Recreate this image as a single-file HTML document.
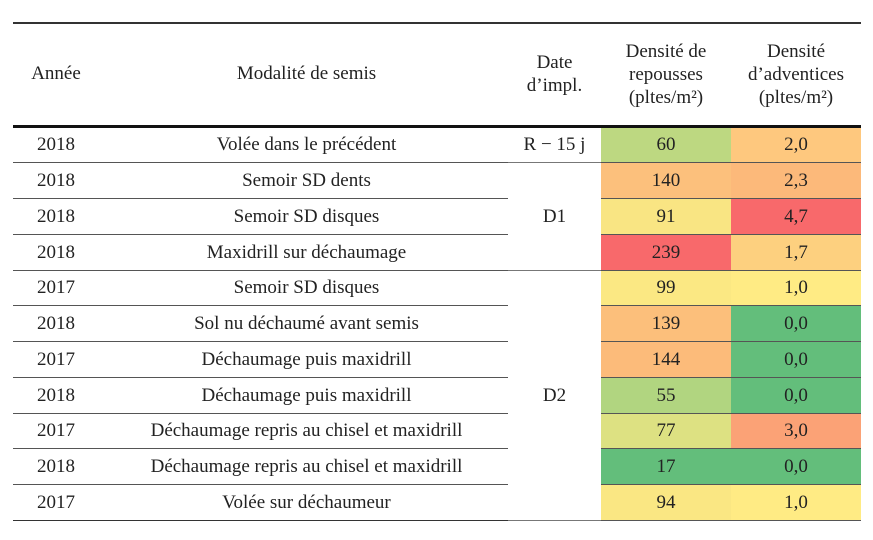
<!DOCTYPE html>
<html><head><meta charset="utf-8"><style>
body{margin:0;width:873px;height:540px;background:#fff;font-family:"Liberation Serif",serif;color:#222;position:relative;overflow:hidden}
.a{position:absolute;text-align:center;font-size:19px}
.l{position:absolute;height:1px;background:#444}
.c{position:absolute;display:flex;align-items:center;justify-content:center;font-size:19px}
</style></head><body>
<div class="l" style="left:13px;width:848px;top:22px;height:1.5px;background:#333"></div>
<div class="l" style="left:13px;width:848px;top:125px;height:3px;background:#111"></div>
<div class="a" style="left:13px;width:86px;top:63px">Année</div>
<div class="a" style="left:105px;width:403px;top:63px">Modalité de semis</div>
<div class="a" style="left:508px;width:93px;top:51px;line-height:23px">Date<br>d’impl.</div>
<div class="a" style="left:601px;width:130px;top:40px;line-height:23px">Densité de<br>repousses<br>(pltes/m²)</div>
<div class="a" style="left:731px;width:130px;top:40px;line-height:23px">Densité<br>d’adventices<br>(pltes/m²)</div>
<div id="rows"></div>
<script>
var R=[["2018","Volée dans le précédent","60","#bdd881","2,0","#fec87e"],
["2018","Semoir SD dents","140","#fcc07c","2,3","#fcb97a"],
["2018","Semoir SD disques","91","#f9e583","4,7","#f8696b"],
["2018","Maxidrill sur déchaumage","239","#f8696b","1,7","#fdd07f"],
["2017","Semoir SD disques","99","#fbe883","1,0","#ffeb84"],
["2018","Sol nu déchaumé avant semis","139","#fcbf7b","0,0","#63be7b"],
["2017","Déchaumage puis maxidrill","144","#fcbb7a","0,0","#63be7b"],
["2018","Déchaumage puis maxidrill","55","#b1d580","0,0","#63be7b"],
["2017","Déchaumage repris au chisel et maxidrill","77","#dde182","3,0","#fba276"],
["2018","Déchaumage repris au chisel et maxidrill","17","#63be7b","0,0","#63be7b"],
["2017","Volée sur déchaumeur","94","#fae783","1,0","#ffeb84"]];
var h="",t0=127.5,rh=35.75;
R.forEach(function(r,i){var y=t0+i*rh;
h+='<div class="c" style="left:13px;width:86px;top:'+y+'px;height:'+rh+'px">'+r[0]+'</div>';
h+='<div class="c" style="left:105px;width:403px;top:'+y+'px;height:'+rh+'px">'+r[1]+'</div>';
h+='<div class="c" style="left:601px;width:130px;top:'+y+'px;height:'+rh+'px;background:'+r[3]+'">'+r[2]+'</div>';
h+='<div class="c" style="left:731px;width:130px;top:'+y+'px;height:'+rh+'px;background:'+r[5]+'">'+r[4]+'</div>';
var yb=Math.round(y+rh)-1;
var last=(i==10);
h+='<div class="l" style="left:13px;width:495px;top:'+yb+'px;background:'+(last?'#333':'#555')+'"></div>';
h+='<div class="l" style="left:601px;width:260px;top:'+yb+'px;background:#555"></div>';
if(i==0||i==3||last)h+='<div class="l" style="left:508px;width:93px;top:'+yb+'px;background:#777"></div>';
});
h+='<div class="c" style="left:508px;width:93px;top:127.5px;height:35.75px">R − 15 j</div>';
h+='<div class="c" style="left:508px;width:93px;top:'+(t0+rh)+'px;height:'+(3*rh)+'px">D1</div>';
h+='<div class="c" style="left:508px;width:93px;top:'+(t0+4*rh)+'px;height:'+(7*rh)+'px">D2</div>';
document.getElementById("rows").innerHTML=h;
</script>
</body></html>
